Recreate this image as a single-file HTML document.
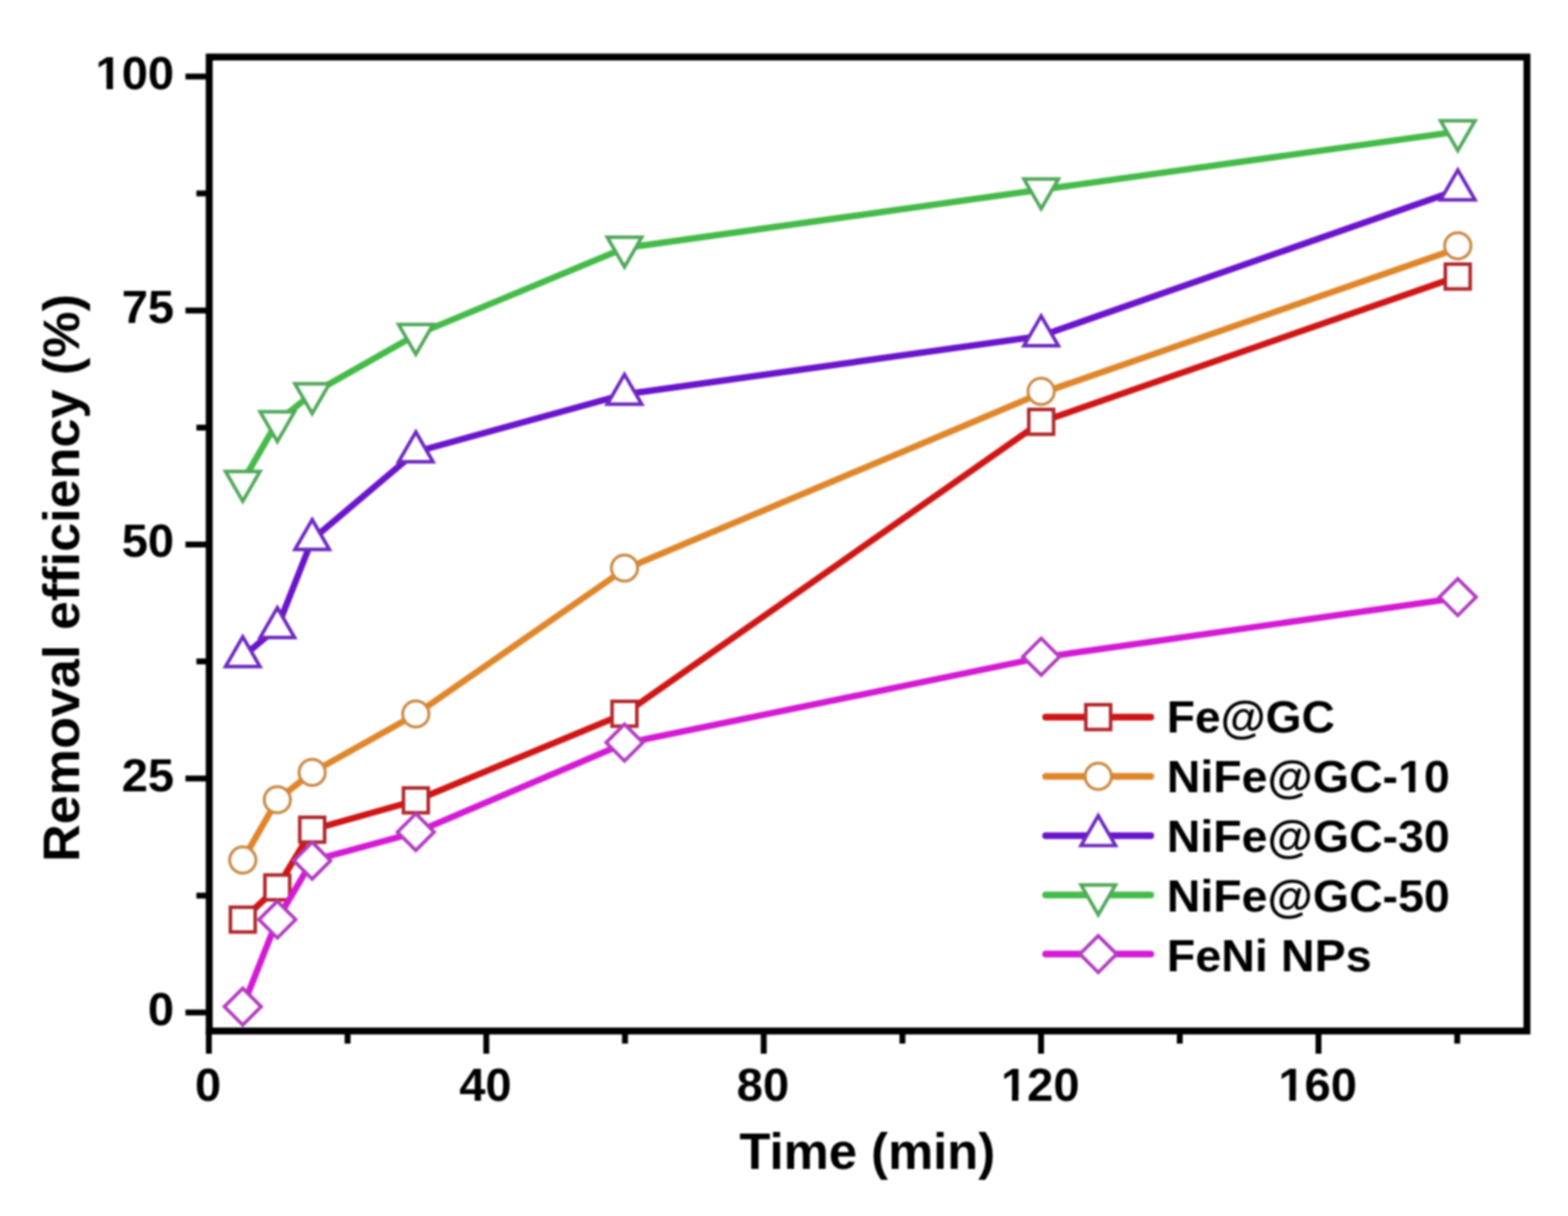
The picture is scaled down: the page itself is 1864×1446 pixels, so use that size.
<!DOCTYPE html>
<html><head><meta charset="utf-8"><title>Removal efficiency vs time</title>
<style>
html,body{margin:0;padding:0;background:#fff;}
body{width:1864px;height:1446px;overflow:hidden;}
svg{display:block;}
#w{filter:blur(0.8px);}
text{font-family:"Liberation Sans",Arial,sans-serif;font-weight:bold;fill:#000;font-variant-ligatures:none;}
</style></head><body>
<div id="w"><svg width="1864" height="1446" viewBox="0 0 1864 1446">
<rect width="1864" height="1446" fill="#fff"/>
<path d="M220.5 1204.0H248.7 M220.5 925.8H248.7 M220.5 647.5H248.7 M220.5 369.2H248.7 M220.5 91.0H248.7 M233.5 1064.9H248.7 M233.5 786.6H248.7 M233.5 508.4H248.7 M233.5 230.1H248.7 M248.3 1226.0V1253 M578.1 1226.0V1253 M907.9 1226.0V1253 M1237.6 1226.0V1253 M1567.4 1226.0V1253 M413.2 1226.0V1241 M743.0 1226.0V1241 M1072.8 1226.0V1241 M1402.5 1226.0V1241 M1732.3 1226.0V1241" stroke="#000" stroke-width="7" fill="none"/>
<polyline points="288.6,1093.6 329.7,1055.3 371.1,986.6 494.3,951.8 742.4,848.8 1237.7,501.7 1733.0,328.8" fill="none" stroke="#d01515" stroke-width="7.6" stroke-linejoin="round" stroke-linecap="round"/>
<rect x="273.9" y="1078.8" width="29.5" height="29.5" fill="#fff" stroke="#b0262b" stroke-width="4.2"/>
<rect x="314.9" y="1040.5" width="29.5" height="29.5" fill="#fff" stroke="#b0262b" stroke-width="4.2"/>
<rect x="356.4" y="971.9" width="29.5" height="29.5" fill="#fff" stroke="#b0262b" stroke-width="4.2"/>
<rect x="479.6" y="937.0" width="29.5" height="29.5" fill="#fff" stroke="#b0262b" stroke-width="4.2"/>
<rect x="727.6" y="834.0" width="29.5" height="29.5" fill="#fff" stroke="#b0262b" stroke-width="4.2"/>
<rect x="1223.0" y="486.9" width="29.5" height="29.5" fill="#fff" stroke="#b0262b" stroke-width="4.2"/>
<rect x="1718.2" y="314.1" width="29.5" height="29.5" fill="#fff" stroke="#b0262b" stroke-width="4.2"/>
<polyline points="288.6,1022.7 329.7,951.0 371.1,918.5 494.3,849.5 742.4,677.0 1237.7,467.6 1733.0,295.3" fill="none" stroke="#e0862a" stroke-width="7.6" stroke-linejoin="round" stroke-linecap="round"/>
<circle cx="288.6" cy="1022.7" r="15.6" fill="#fff" stroke="#c98a45" stroke-width="3.5"/>
<circle cx="329.7" cy="951.0" r="15.6" fill="#fff" stroke="#c98a45" stroke-width="3.5"/>
<circle cx="371.1" cy="918.5" r="15.6" fill="#fff" stroke="#c98a45" stroke-width="3.5"/>
<circle cx="494.3" cy="849.0" r="15.6" fill="#fff" stroke="#c98a45" stroke-width="3.5"/>
<circle cx="742.4" cy="675.5" r="15.6" fill="#fff" stroke="#c98a45" stroke-width="3.5"/>
<circle cx="1237.7" cy="465.4" r="15.6" fill="#fff" stroke="#c98a45" stroke-width="3.5"/>
<circle cx="1733.0" cy="292.3" r="15.6" fill="#fff" stroke="#c98a45" stroke-width="3.5"/>
<polyline points="288.6,780.9 329.7,746.3 371.1,641.6 494.3,537.3 742.4,468.9 1237.7,399.4 1733.0,225.8" fill="none" stroke="#6a14cc" stroke-width="7.6" stroke-linejoin="round" stroke-linecap="round"/>
<polygon points="288.6,757.2 309.1,792.7 268.1,792.7" fill="#fff" stroke="#6e28c0" stroke-width="4.2" stroke-miterlimit="4"/>
<polygon points="329.7,722.6 350.2,758.1 309.2,758.1" fill="#fff" stroke="#6e28c0" stroke-width="4.2" stroke-miterlimit="4"/>
<polygon points="371.1,617.9 391.6,653.4 350.6,653.4" fill="#fff" stroke="#6e28c0" stroke-width="4.2" stroke-miterlimit="4"/>
<polygon points="494.3,513.6 514.8,549.1 473.8,549.1" fill="#fff" stroke="#6e28c0" stroke-width="4.2" stroke-miterlimit="4"/>
<polygon points="742.4,445.2 762.9,480.7 721.9,480.7" fill="#fff" stroke="#6e28c0" stroke-width="4.2" stroke-miterlimit="4"/>
<polygon points="1237.7,375.7 1258.2,411.2 1217.2,411.2" fill="#fff" stroke="#6e28c0" stroke-width="4.2" stroke-miterlimit="4"/>
<polygon points="1733.0,202.1 1753.5,237.6 1712.5,237.6" fill="#fff" stroke="#6e28c0" stroke-width="4.2" stroke-miterlimit="4"/>
<polyline points="288.6,572.4 329.7,501.4 371.1,468.1 494.3,398.2 742.4,294.9 1237.7,225.6 1733.0,156.4" fill="none" stroke="#44bb48" stroke-width="7.6" stroke-linejoin="round" stroke-linecap="round"/>
<polygon points="268.1,560.6 309.1,560.6 288.6,596.1" fill="#fff" stroke="#52a85a" stroke-width="4.2" stroke-miterlimit="4"/>
<polygon points="309.2,489.6 350.2,489.6 329.7,525.1" fill="#fff" stroke="#52a85a" stroke-width="4.2" stroke-miterlimit="4"/>
<polygon points="350.6,456.3 391.6,456.3 371.1,491.8" fill="#fff" stroke="#52a85a" stroke-width="4.2" stroke-miterlimit="4"/>
<polygon points="473.8,385.9 514.8,385.9 494.3,421.4" fill="#fff" stroke="#52a85a" stroke-width="4.2" stroke-miterlimit="4"/>
<polygon points="721.9,282.1 762.9,282.1 742.4,317.6" fill="#fff" stroke="#52a85a" stroke-width="4.2" stroke-miterlimit="4"/>
<polygon points="1217.2,212.8 1258.2,212.8 1237.7,248.3" fill="#fff" stroke="#52a85a" stroke-width="4.2" stroke-miterlimit="4"/>
<polygon points="1712.5,143.6 1753.5,143.6 1733.0,179.1" fill="#fff" stroke="#52a85a" stroke-width="4.2" stroke-miterlimit="4"/>
<polyline points="288.6,1197.1 329.7,1093.6 371.1,1023.4 494.3,989.9 742.4,884.1 1237.7,781.9 1733.0,711.1" fill="none" stroke="#d41ad4" stroke-width="7.6" stroke-linejoin="round" stroke-linecap="round"/>
<polygon points="288.6,1175.3 310.4,1197.1 288.6,1218.9 266.8,1197.1" fill="#fff" stroke="#b23cc0" stroke-width="4.2" stroke-miterlimit="4"/>
<polygon points="329.7,1071.8 351.5,1093.6 329.7,1115.4 307.9,1093.6" fill="#fff" stroke="#b23cc0" stroke-width="4.2" stroke-miterlimit="4"/>
<polygon points="371.1,1001.6 392.9,1023.4 371.1,1045.2 349.3,1023.4" fill="#fff" stroke="#b23cc0" stroke-width="4.2" stroke-miterlimit="4"/>
<polygon points="494.3,967.6 516.1,989.4 494.3,1011.2 472.5,989.4" fill="#fff" stroke="#b23cc0" stroke-width="4.2" stroke-miterlimit="4"/>
<polygon points="742.4,861.3 764.2,883.1 742.4,904.9 720.6,883.1" fill="#fff" stroke="#b23cc0" stroke-width="4.2" stroke-miterlimit="4"/>
<polygon points="1237.7,759.1 1259.5,780.9 1237.7,802.7 1215.9,780.9" fill="#fff" stroke="#b23cc0" stroke-width="4.2" stroke-miterlimit="4"/>
<polygon points="1733.0,688.3 1754.8,710.1 1733.0,731.9 1711.2,710.1" fill="#fff" stroke="#b23cc0" stroke-width="4.2" stroke-miterlimit="4"/>
<rect x="248.7" y="67.8" width="1566.5" height="1158.2" fill="none" stroke="#000" stroke-width="8.2"/>
<line x1="1243" y1="852.8" x2="1368" y2="852.8" stroke="#d01515" stroke-width="8" stroke-linecap="round"/>
<rect x="1290.8" y="838.0" width="29.5" height="29.5" fill="#fff" stroke="#b0262b" stroke-width="4.2"/>
<line x1="1243" y1="923.2" x2="1368" y2="923.2" stroke="#e0862a" stroke-width="8" stroke-linecap="round"/>
<circle cx="1305.6" cy="923.2" r="15.6" fill="#fff" stroke="#c98a45" stroke-width="3.5"/>
<line x1="1243" y1="993.7" x2="1368" y2="993.7" stroke="#6a14cc" stroke-width="8" stroke-linecap="round"/>
<polygon points="1305.6,970.0 1326.1,1005.5 1285.1,1005.5" fill="#fff" stroke="#6e28c0" stroke-width="4.2" stroke-miterlimit="4"/>
<line x1="1243" y1="1064.2" x2="1368" y2="1064.2" stroke="#44bb48" stroke-width="8" stroke-linecap="round"/>
<polygon points="1285.1,1052.3 1326.1,1052.3 1305.6,1087.8" fill="#fff" stroke="#52a85a" stroke-width="4.2" stroke-miterlimit="4"/>
<line x1="1243" y1="1134.6" x2="1368" y2="1134.6" stroke="#d41ad4" stroke-width="8" stroke-linecap="round"/>
<polygon points="1305.6,1112.8 1327.4,1134.6 1305.6,1156.4 1283.8,1134.6" fill="#fff" stroke="#b23cc0" stroke-width="4.2" stroke-miterlimit="4"/>
<text id="t0" x="207" y="1218.8" font-size="56" text-anchor="end">0</text>
<text id="t1" x="207" y="940.5" font-size="56" text-anchor="end">25</text>
<text id="t2" x="207" y="662.3" font-size="56" text-anchor="end">50</text>
<text id="t3" x="207" y="384.0" font-size="56" text-anchor="end">75</text>
<text id="t4" x="207" y="105.8" font-size="56" text-anchor="end">100</text><rect x="116.24" y="99.29" width="10.39" height="7.51" fill="#fff"/><rect x="134.32" y="99.29" width="9.65" height="7.51" fill="#fff"/>
<text id="t5" x="247.3" y="1308.5" font-size="56" text-anchor="middle">0</text>
<text id="t6" x="577.1" y="1308.5" font-size="56" text-anchor="middle">40</text>
<text id="t7" x="906.9" y="1308.5" font-size="56" text-anchor="middle">80</text>
<text id="t8" x="1236.6" y="1308.5" font-size="56" text-anchor="middle">120</text><rect x="1192.56" y="1301.99" width="10.39" height="7.51" fill="#fff"/><rect x="1210.64" y="1301.99" width="9.65" height="7.51" fill="#fff"/>
<text id="t9" x="1566.4" y="1308.5" font-size="56" text-anchor="middle">160</text><rect x="1522.36" y="1301.99" width="10.39" height="7.51" fill="#fff"/><rect x="1540.44" y="1301.99" width="9.65" height="7.51" fill="#fff"/>
<g transform="translate(1031 1390.3) scale(0.99 1)"><text id="t10" x="0" y="0" font-size="61" text-anchor="middle">Time (min)</text></g>
<g transform="translate(93.6 687.3) rotate(-90)"><text id="t11" x="0" y="0" font-size="62" text-anchor="middle">Removal efficiency (%)</text></g>
<g transform="translate(1387 871.0) scale(1.036 1)"><text id="t12" x="0" y="0" font-size="53">Fe@GC</text></g>
<g transform="translate(1387 941.9) scale(1.043 1)"><text id="t13" x="0" y="0" font-size="53">NiFe@GC-10</text><rect x="266.12" y="-6.21" width="9.86" height="7.21" fill="#fff"/><rect x="283.26" y="-6.21" width="9.17" height="7.21" fill="#fff"/></g>
<g transform="translate(1387 1012.8) scale(1.043 1)"><text id="t14" x="0" y="0" font-size="53">NiFe@GC-30</text></g>
<g transform="translate(1387 1083.7) scale(1.043 1)"><text id="t15" x="0" y="0" font-size="53">NiFe@GC-50</text></g>
<g transform="translate(1387 1154.6) scale(1.047 1)"><text id="t16" x="0" y="0" font-size="53">FeNi NPs</text></g>
</svg></div></body></html>
